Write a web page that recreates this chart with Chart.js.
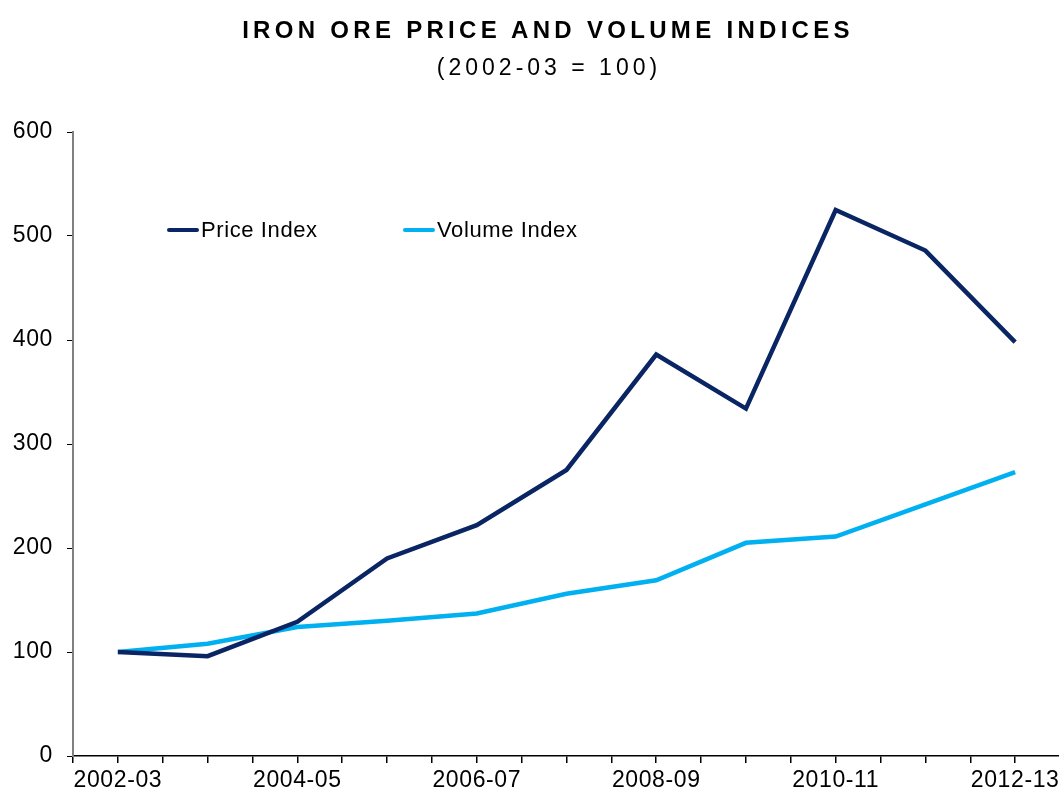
<!DOCTYPE html>
<html>
<head>
<meta charset="utf-8">
<script src="https://cdn.jsdelivr.net/npm/chart.js@4"></script>
<style>
  html, body { margin: 0; padding: 0; background: #fff; overflow: hidden; }
  body { width: 1059px; height: 794px; position: relative; font-family: "Liberation Sans", Arial, sans-serif; }
  .title { position: absolute; left: 0; width: 1100px; text-align: center; color: #000; white-space: nowrap; }
  #t1 { top: 16px; left: 0; width: 1096px; font-size: 24px; font-weight: bold; letter-spacing: 4.3px; }
  #t2 { top: 54px; left: 0; width: 1098px; font-size: 23px; letter-spacing: 4px; }
  #wrap { position: absolute; left: 0; top: 0; width: 1100px; height: 794px; }
  #legend { position: absolute; top: 217px; left: 0; font-size: 22px; letter-spacing: 0.6px; }
  .item { position: absolute; white-space: nowrap; display: flex; align-items: center; }
  .swatch { display: inline-block; width: 32px; height: 4px; border-radius: 2px; margin-right: 2px; }
</style>
</head>
<body>
<div id="wrap"><canvas id="c"></canvas></div>
<div class="title" id="t1">IRON ORE PRICE AND VOLUME INDICES</div>
<div class="title" id="t2">(2002-03 = 100)</div>
<div id="legend"></div>
<script>
const categories = ["2002-03", "2003-04", "2004-05", "2005-06", "2006-07", "2007-08",
                    "2008-09", "2009-10", "2010-11", "2011-12", "2012-13"];
const priceIndex  = [100, 96, 129, 190, 222, 275, 386, 334, 525, 486, 398];
const volumeIndex = [100, 108, 124, 130, 137, 156, 169, 205, 211, 242, 273];
const yTicks = [0, 100, 200, 300, 400, 500, 600];

const PRICE = "#0a2563";
const VOLUME = "#00b0f0";

const toPoints = arr => arr.map((y, i) => ({ x: i, y }));

// the source text is set a touch wide
const wideText = {
  id: "wideText",
  beforeDraw: c => { c.ctx.letterSpacing = "0.6px"; }
};

const chart = new Chart(document.getElementById("c"), {
  type: "line",
  data: {
    datasets: [
      { label: "Price Index", data: toPoints(priceIndex), borderColor: PRICE, backgroundColor: PRICE,
        borderWidth: 4.5, pointRadius: 0, tension: 0 },
      { label: "Volume Index", data: toPoints(volumeIndex), borderColor: VOLUME, backgroundColor: VOLUME,
        borderWidth: 4.5, pointRadius: 0, tension: 0 }
    ]
  },
  plugins: [wideText],
  options: {
    responsive: true,
    maintainAspectRatio: false,
    animation: false,
    layout: { padding: { top: 132, right: 40, left: 0, bottom: 0 } },
    plugins: { legend: { display: false }, tooltip: { enabled: false } },
    scales: {
      x: {
        type: "linear",
        min: -0.5,
        max: 10.5,
        afterBuildTicks: s => { s.ticks = []; for (let v = -0.5; v <= 10.5; v += 0.5) s.ticks.push({ value: v }); },
        afterFit: s => { s.height = 38; },
        ticks: {
          autoSkip: false, maxRotation: 0, color: "#000", padding: 4,
          font: { family: "Liberation Sans", size: 23 },
          callback: v => (Number.isInteger(v) && v % 2 === 0) ? categories[v] : ""
        },
        grid: { drawOnChartArea: false, drawTicks: true, tickLength: 7, color: "#000", lineWidth: 1.5 },
        border: { color: "#000", width: 1.5 }
      },
      y: {
        min: 0,
        max: 600,
        afterBuildTicks: s => { s.ticks = yTicks.map(v => ({ value: v })); },
        afterFit: s => { s.width = 73; },
        ticks: { color: "#000", padding: 14, font: { family: "Liberation Sans", size: 23 } },
        grid: { drawOnChartArea: false, drawTicks: true, tickLength: 6, color: "#000", lineWidth: 1 },
        border: { color: "#808080", width: 2 }
      }
    }
  }
});

// legend drawn inside the plot, built from the datasets
const legendPos = [167, 403];
const legend = document.getElementById("legend");
chart.data.datasets.forEach((ds, i) => {
  const el = document.createElement("div");
  el.className = "item";
  el.style.left = legendPos[i] + "px";
  el.innerHTML = '<span class="swatch" style="background:' + ds.borderColor + '"></span>' + ds.label;
  legend.appendChild(el);
});
</script>
</body>
</html>
